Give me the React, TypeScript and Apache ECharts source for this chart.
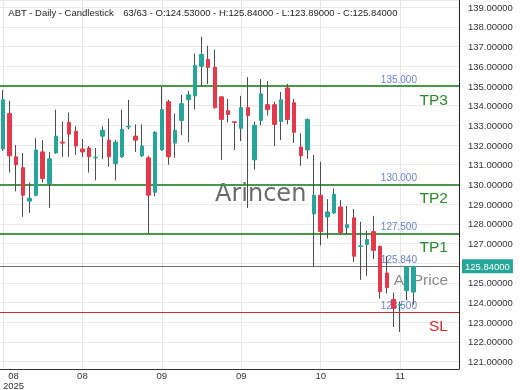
import React, { useEffect, useRef } from 'react';
import * as echarts from 'echarts';

// ---- data ----
const opens = [
  131.8, 133.6, 131.4, 130.85, 129.15, 129.45, 131.65, 130.05, 131.6, 132.15,
  133.15, 132.7, 131.8, 131.85, 131.35, 132.45, 132.25, 131.05, 131.4, 132.92,
  132.45, 131.45, 131.35, 129.6, 131.75, 134.2, 132.1, 133.25, 134.3, 134.5,
  136.0, 136.35, 135.95, 134.45, 133.75, 133.18, 132.85, 133.9, 131.25, 133.25,
  134.05, 134.05, 133.2, 134.9, 134.15, 131.9, 131.75, 128.5, 129.45, 128.35,
  128.55, 128.85, 127.8, 128.3, 126.85, 126.95, 127.6, 126.85, 125.5, 124.15,
  123.85, 124.6, 124.53,
];
const highs = [
  134.8, 134.25, 132.0, 131.6, 130.1, 132.35, 132.25, 131.65, 133.8, 133.2,
  133.65, 132.95, 132.3, 131.95, 131.85, 132.95, 133.35, 132.25, 133.8, 134.3,
  133.05, 133.05, 131.45, 132.7, 134.95, 134.3, 133.6, 134.55, 134.75, 136.65,
  137.5, 137.05, 136.85, 134.5, 134.35, 133.2, 134.5, 135.45, 133.2, 135.35,
  135.25, 134.2, 134.7, 135.1, 134.35, 132.6, 133.35, 131.5, 131.15, 129.25,
  129.8, 129.2, 128.9, 128.75, 128.1, 127.65, 128.4, 126.9, 126.35, 124.5,
  124.05, 125.85, 125.84,
];
const lows = [
  131.7, 130.6, 129.65, 128.35, 128.55, 129.4, 130.1, 128.8, 131.55, 131.4,
  131.4, 131.5, 131.4, 130.6, 130.2, 131.3, 130.9, 130.2, 131.35, 132.8,
  131.65, 131.4, 127.5, 129.4, 131.7, 131.0, 131.35, 132.5, 132.15, 133.8,
  135.0, 135.1, 133.85, 131.25, 133.15, 131.75, 132.2, 128.8, 130.75, 133.0,
  133.5, 131.95, 132.25, 133.05, 132.1, 130.95, 131.3, 125.8, 126.9, 127.25,
  128.5, 127.45, 127.45, 126.05, 125.15, 125.35, 126.2, 124.2, 124.45, 122.75,
  122.5, 124.1, 123.89,
];
const closes = [
  134.3, 131.45, 131.0, 129.45, 129.3, 131.75, 130.3, 131.3, 132.45, 132.1,
  132.55, 131.95, 131.65, 131.4, 131.38, 132.75, 131.4, 132.15, 132.8, 132.95,
  132.25, 131.95, 129.45, 132.65, 133.8, 131.4, 132.75, 134.1, 134.55, 136.05,
  136.6, 135.95, 133.9, 133.3, 133.55, 133.15, 133.9, 133.5, 133.0, 134.6,
  133.8, 133.05, 134.3, 133.3, 132.65, 131.45, 133.3, 129.45, 127.6, 128.6,
  129.5, 127.55, 127.95, 126.35, 126.88, 127.2, 126.65, 124.55, 124.75, 123.7,
  123.9, 125.8, 125.84,
];

const tickIndices = [0, 12, 24, 36, 48, 60];
const tickLabels = ['08\n2025', '08', '09', '09', '10', '11'];

const levelValues = [135, 130, 127.5, 123.5];
const levelNames = ['TP3', 'TP2', 'TP1', 'SL'];
const levelIsStop = [false, false, false, true];
const lastPrice = 125.84;
const lastPriceName = 'At Price';

const headerLeft = 'ABT - Daily - Candlestick';
const headerRight = '63/63 - O:124.53000 - H:125.84000 - L:123.89000 - C:125.84000';
const watermark = 'Arincen';

// ---- styles ----
const GREEN = '#26a69a';
const RED = '#e5394b';
const WICK = '#4d4d4d';
const BLUE = '#6a82d4';
const TP_LINE = '#3f8f3f';
const TP_TEXT = '#2b8a2b';
const SL_LINE = '#cc2e2e';
const SL_TEXT = '#d42a2a';
const FONT = 'Liberation Sans, Arial, sans-serif';

export default function App() {
  const ref = useRef<HTMLDivElement>(null);

  useEffect(() => {
    const chart = echarts.init(ref.current!, undefined, { renderer: 'svg' });

    const wickData = opens.map((o, i) => [i, o, closes[i], lows[i], highs[i]]);
    const bodyData = opens.map((o, i) => [
      i,
      o,
      closes[i],
      Math.min(o, closes[i]),
      Math.max(o, closes[i]),
    ]);

    const markData: any[] = [];
    levelValues.forEach((v, k) => {
      const stop = levelIsStop[k];
      const lineStyle = stop
        ? { color: SL_LINE, width: 1, type: 'solid' }
        : { color: TP_LINE, width: 1.5, type: 'solid' };
      markData.push({
        yAxis: v,
        lineStyle,
        label: {
          show: true,
          position: 'insideEndTop',
          formatter: v.toFixed(3),
          color: BLUE,
          fontSize: 10,
          fontFamily: FONT,
          padding: [0, 40, 0, 0],
          distance: 2,
        },
      });
      markData.push({
        yAxis: v,
        lineStyle,
        label: {
          show: true,
          position: 'insideEndBottom',
          formatter: levelNames[k],
          color: stop ? SL_TEXT : TP_TEXT,
          fontSize: 15.5,
          fontFamily: FONT,
          padding: [0, 6, 0, 0],
          distance: 5,
        },
      });
    });
    const lastStyle = { color: '#6e6e6e', width: 1, type: 'solid' };
    markData.push({
      yAxis: lastPrice,
      lineStyle: lastStyle,
      label: {
        show: true,
        position: 'insideEndTop',
        formatter: lastPrice.toFixed(3),
        color: BLUE,
        fontSize: 10,
        fontFamily: FONT,
        padding: [0, 40, 0, 0],
        distance: 2,
      },
    });
    markData.push({
      yAxis: lastPrice,
      lineStyle: lastStyle,
      label: {
        show: true,
        position: 'insideEndBottom',
        formatter: lastPriceName,
        color: '#8c8c8c',
        fontSize: 15.5,
        fontFamily: FONT,
        padding: [0, 6, 0, 0],
        distance: 5,
      },
    });
    markData.push({
      yAxis: lastPrice,
      lineStyle: lastStyle,
      label: {
        show: true,
        position: 'end',
        formatter: lastPrice.toFixed(5),
        color: '#ffffff',
        backgroundColor: GREEN,
        fontSize: 9.5,
        fontFamily: FONT,
        padding: [2, 3, 2, 3],
        distance: 3,
      },
    });

    const option: any = {
      animation: false,
      textStyle: { fontFamily: FONT },
      grid: {
        left: 0,
        right: 61,
        top: 0,
        bottom: 21,
        containLabel: false,
        outerBoundsMode: 'none',
      },
      xAxis: {
        type: 'value',
        min: -0.45,
        max: 68.9,
        axisLine: { show: true, onZero: false, lineStyle: { color: '#333', width: 1 } },
        axisTick: { show: false, customValues: tickIndices },
        splitLine: { show: true, lineStyle: { color: '#e6e6e6', width: 1 } },
        axisLabel: {
          customValues: tickIndices,
          margin: 2,
          fontSize: 9.5,
          lineHeight: 9.5,
          color: '#333',
          fontFamily: FONT,
          formatter: (v: number) => {
            const k = tickIndices.indexOf(Math.round(v));
            if (k < 0) return '';
            if (k === 0) {
              return tickLabels[0]
                .split('\n')
                .map((s) => '{f|' + s + '}')
                .join('\n');
            }
            return tickLabels[k];
          },
          rich: {
            f: {
              fontSize: 9.5,
              lineHeight: 9.5,
              color: '#333',
              fontFamily: FONT,
              padding: [0, 0, 0, 21],
            },
          },
        },
      },
      yAxis: {
        type: 'value',
        position: 'right',
        min: 120.62,
        max: 139.37,
        splitNumber: 19,
        scale: true,
        axisLine: { show: true, onZero: false, lineStyle: { color: '#222', width: 1 } },
        axisTick: { show: false },
        splitLine: { show: true, lineStyle: { color: '#ebebeb', width: 1 } },
        axisLabel: {
          margin: 9,
          fontSize: 9.5,
          color: '#333',
          fontFamily: FONT,
          showMinLabel: false,
          showMaxLabel: false,
          formatter: (v: number) =>
            Math.abs(v - lastPrice) < 0.5 ? '' : v.toFixed(5),
        },
      },
      graphic: [
        {
          type: 'text',
          x: 8.3,
          y: 12.3,
          z: 100,
          style: {
            text: headerLeft,
            fill: '#222',
            fontSize: 9.5,
            fontFamily: FONT,
            verticalAlign: 'middle',
            align: 'left',
          },
        },
        {
          type: 'text',
          x: 123.3,
          y: 12.3,
          z: 100,
          style: {
            text: headerRight,
            fill: '#222',
            fontSize: 9.5,
            fontFamily: FONT,
            verticalAlign: 'middle',
            align: 'left',
          },
        },
        {
          type: 'text',
          x: 215,
          y: 193,
          z: 0,
          silent: true,
          style: {
            text: watermark,
            fill: '#6b6b6b',
            fontSize: 24,
            fontFamily: 'DejaVu Sans, sans-serif',
            verticalAlign: 'middle',
            align: 'left',
          },
        },
      ],
      series: [
        {
          type: 'candlestick',
          name: 'wick',
          z: 10,
          barWidth: 1,
          data: wickData,
          silent: true,
          itemStyle: {
            color: WICK,
            color0: WICK,
            borderColor: WICK,
            borderColor0: WICK,
            borderColorDoji: WICK,
            borderWidth: 1,
          },
          markLine: {
            z: 1,
            silent: true,
            symbol: ['none', 'none'],
            animation: false,
            data: markData,
          },
        },
        {
          type: 'candlestick',
          name: 'ABT',
          z: 11,
          barWidth: 4,
          data: bodyData,
          silent: true,
          itemStyle: {
            color: GREEN,
            color0: RED,
            borderColor: GREEN,
            borderColor0: RED,
            borderColorDoji: GREEN,
            borderWidth: 1,
          },
        },
      ],
    };

    chart.setOption(option);
    return () => chart.dispose();
  }, []);

  return (
    <div
      ref={ref}
      style={{ position: 'fixed', left: 0, top: 0, width: 520, height: 390 }}
    />
  );
}
